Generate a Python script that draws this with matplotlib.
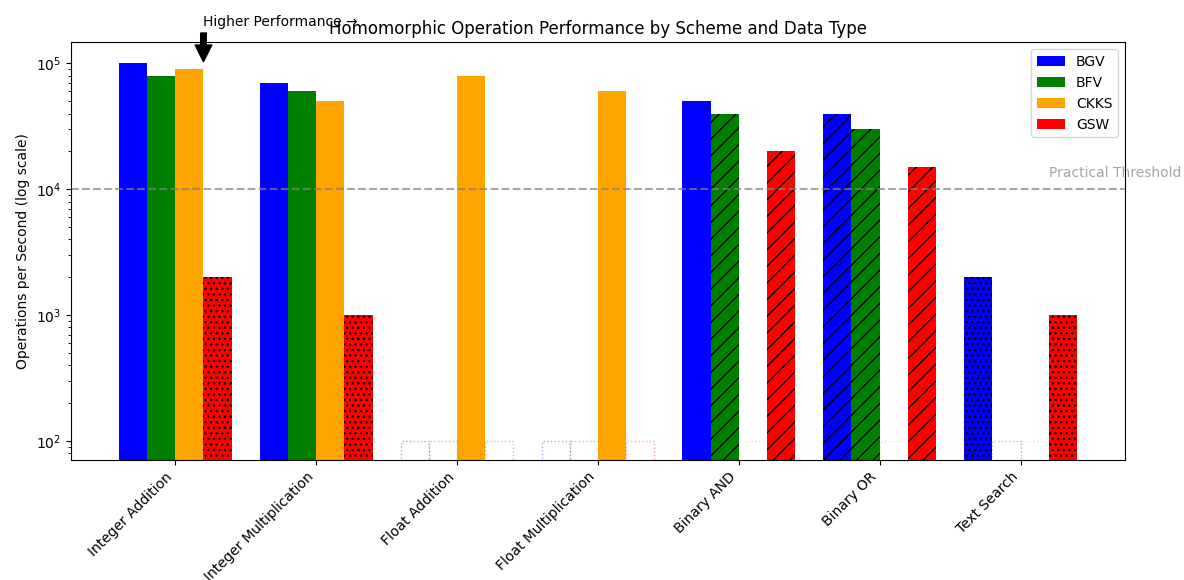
import numpy as np
import matplotlib
matplotlib.use("Agg")
import matplotlib.pyplot as plt
from matplotlib.patches import Patch

# Operations per second by scheme; None = operation not supported by that scheme
operations = ["Integer Addition", "Integer Multiplication", "Float Addition",
              "Float Multiplication", "Binary AND", "Binary OR", "Text Search"]
schemes = ["BGV", "BFV", "CKKS", "GSW"]
colors = ["blue", "green", "orange", "red"]

bgv = [100000, 70000, None, None, 50000, 40000, 2000]
bfv = [80000, 60000, None, None, 40000, 30000, None]
ckks = [90000, 50000, 80000, 60000, None, None, None]
gsw = [2000, 1000, None, None, 20000, 15000, 1000]

# hatch pattern per scheme and operation
bgv_hatch = ["", "", "", "", "", "//", "..."]
bfv_hatch = ["", "", "", "", "//", "//", ""]
ckks_hatch = ["", "", "", "", "", "", ""]
gsw_hatch = ["...", "...", "", "", "//", "//", "..."]

threshold = 10000
unsupported_level = 100

series = [bgv, bfv, ckks, gsw]
hatches = [bgv_hatch, bfv_hatch, ckks_hatch, gsw_hatch]

fig, ax = plt.subplots(figsize=(11.84, 5.8), dpi=100)
x = np.arange(len(operations))
width = 0.2

for i, (name, vals, col, hat) in enumerate(zip(schemes, series, colors, hatches)):
    pos = x + (i - 1.5) * width
    for j, v in enumerate(vals):
        if v is None:
            # placeholder outline for unsupported operations
            ax.bar(pos[j], unsupported_level, width, fill=False, edgecolor=col,
                   linestyle=":", alpha=0.35)
        else:
            ax.bar(pos[j], v, width, color=col, hatch=hat[j])

ax.set_yscale("log")
ax.set_ylim(71, 1.47e5)

ax.axhline(threshold, color="gray", linestyle="--", alpha=0.7)
ax.text(6.2, 1.25e4, "Practical Threshold", color="gray", alpha=0.7, fontsize=10)

ax.annotate("Higher Performance →", xy=(0.2, 1.0e5), xytext=(0.2, 2.0e5),
            arrowprops=dict(facecolor="black", shrink=0.05), fontsize=10,
            annotation_clip=False)

ax.set_xticks(x)
ax.set_xticklabels(operations, rotation=45, ha="right")
ax.set_ylabel("Operations per Second (log scale)")
ax.set_title("Homomorphic Operation Performance by Scheme and Data Type")

handles = [Patch(facecolor=c, label=s) for s, c in zip(schemes, colors)]
ax.legend(handles=handles, loc="upper right")

fig.subplots_adjust(left=0.06, right=0.95, top=0.927, bottom=0.207)
fig.savefig("out.png", dpi=100)
